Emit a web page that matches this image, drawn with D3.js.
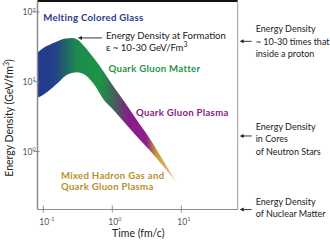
<!DOCTYPE html>
<html>
<head>
<meta charset="utf-8">
<script src="https://cdn.jsdelivr.net/npm/d3@7"></script>
<style>
  html, body { margin: 0; padding: 0; background: #fff; }
  svg { display: block; font-family: Lato, "Open Sans", sans-serif; }
</style>
</head>
<body>
<script>
// band: time (fm/c), upper and lower energy density (GeV/fm^3)
const bandTime  = [0.082, 0.1, 0.13, 0.17, 0.21, 0.26, 0.31, 0.4, 0.55, 0.75, 1.0, 1.5, 2.2, 3.5, 5.5, 8.7];
const bandUpper = [26, 30.6, 34.9, 39.2, 41.8, 42.5, 40.5, 31.6, 21.3, 13.9, 9.06, 5.18, 2.96, 1.53, 0.74, 0.35];
const bandLower = [5.9, 6.52, 7.94, 10, 12.2, 13.4, 13.7, 12.6, 9.06, 5.53, 4.11, 2.6, 1.69, 1.03, 0.61, 0.35];

const xTicks = [0.1, 1, 10];
const xTickExp = ["-1", "0", "1"];
const yTicks = [1, 10, 100];
const yTickExp = ["0", "1", "2"];

// phase labels inside the plot: [text, time, energy, colour]
const phaseLabels = [
  ["Melting Colored Glass", 0.1, 75, "#2b3a8c"],
  ["Quark Gluon Matter", 0.88, 14, "#1f9447"],
  ["Quark Gluon Plasma", 2.2, 3.2, "#8a1a88"],
  ["Mixed Hadron Gas and", 0.18, 0.41, "#b8902e"],
  ["Quark Gluon Plasma", 0.18, 0.28, "#b8902e"]
];

// reference energies marked on the right side
const refLevels = [38, 1.67, 0.147];
const refTexts = [
  ["Energy Density", "~ 10-30 times that", "inside a proton"],
  ["Energy Density", "in Cores", "of Neutron Stars"],
  ["Energy Density", "of Nuclear Matter"]
];

const W = 330, H = 244;
const margin = { top: 1, right: 92.3, bottom: 34.5, left: 37.5 };
const width = W - margin.left - margin.right,
      height = H - margin.top - margin.bottom;

const x = d3.scaleLog().domain([Math.pow(10, -1.084), Math.pow(10, 1.817)]).range([0, width]);
const y = d3.scaleLog().domain([Math.pow(10, -0.8315), Math.pow(10, 2.158)]).range([height, 0]);

const svg = d3.select("body").append("svg")
    .attr("width", W)
    .attr("height", H);

const g = svg.append("g")
    .attr("transform", "translate(" + margin.left + "," + margin.top + ")");

// colour ramp along time
const grad = svg.append("defs").append("linearGradient")
    .attr("id", "band")
    .attr("gradientUnits", "userSpaceOnUse")
    .attr("x1", x(bandTime[0])).attr("x2", x(bandTime[bandTime.length - 1]))
    .attr("y1", 0).attr("y2", 0);
[[0, "#22398c"], [0.12, "#233f8a"], [0.28, "#1c8a4c"], [0.45, "#1d9447"],
 [0.56, "#4a5a60"], [0.66, "#8a1a8a"], [0.78, "#8e2288"], [0.85, "#c89838"],
 [0.93, "#dcb770"], [1, "#f4ead4"]].forEach(s => {
  grad.append("stop").attr("offset", s[0]).attr("stop-color", s[1]);
});

const area = d3.area()
    .x((d, i) => x(bandTime[i]))
    .y0((d, i) => y(bandLower[i]))
    .y1((d, i) => y(bandUpper[i]))
    .curve(d3.curveMonotoneX);

g.append("path")
    .datum(bandTime)
    .attr("d", area)
    .attr("fill", "url(#band)");

// frame
g.append("line").attr("x1", 0).attr("x2", width).attr("y1", 0).attr("y2", 0)
    .attr("stroke", "#111").attr("stroke-width", 2);
g.append("line").attr("x1", 0).attr("x2", 0).attr("y1", 0).attr("y2", height)
    .attr("stroke", "#8c8c8c").attr("stroke-width", 1.5);
g.append("line").attr("x1", width).attr("x2", width).attr("y1", 0).attr("y2", height)
    .attr("stroke", "#999").attr("stroke-width", 1);
g.append("line").attr("x1", 0).attr("x2", width).attr("y1", height).attr("y2", height)
    .attr("stroke", "#8c8c8c").attr("stroke-width", 1.2);

// x ticks
xTicks.forEach((t, i) => {
  g.append("line").attr("x1", x(t)).attr("x2", x(t))
      .attr("y1", height - 4).attr("y2", height + 3)
      .attr("stroke", "#777").attr("stroke-width", 0.8);
  const lab = g.append("text").attr("x", x(t) - 4).attr("y", height + 15)
      .attr("font-size", 8.5).attr("fill", "#555");
  lab.append("tspan").text("10");
  lab.append("tspan").attr("dy", -3.5).attr("font-size", 5.5).text(xTickExp[i]);
});

// y ticks
yTicks.forEach((t, i) => {
  g.append("line").attr("x1", -4).attr("x2", 2)
      .attr("y1", y(t)).attr("y2", y(t))
      .attr("stroke", "#777").attr("stroke-width", 0.8);
  const lab = g.append("text").attr("x", -15).attr("y", y(t) + 3)
      .attr("font-size", 8.5).attr("fill", "#555");
  lab.append("tspan").text("10");
  lab.append("tspan").attr("dy", -3.5).attr("font-size", 5.5).text(yTickExp[i]);
});

// axis titles
svg.append("text")
    .attr("x", margin.left + x(1) + 26).attr("y", 237)
    .attr("text-anchor", "middle")
    .attr("font-size", 10.5).attr("fill", "#222")
    .text("Time (fm/c)");

const yt = svg.append("text")
    .attr("transform", "translate(13," + (margin.top + 117) + ") rotate(-90)")
    .attr("text-anchor", "middle")
    .attr("font-size", 10.5).attr("fill", "#222");
yt.append("tspan").text("Energy Density (GeV/fm");
yt.append("tspan").attr("dy", -4).attr("font-size", 7).text("3");
yt.append("tspan").attr("dy", 4).text(")");

// phase labels
phaseLabels.forEach(p => {
  g.append("text")
      .attr("x", x(p[1])).attr("y", y(p[2]))
      .attr("font-size", 9.6).attr("font-weight", "bold")
      .attr("letter-spacing", 0.3)
      .attr("fill", p[3])
      .text(p[0]);
});

// formation note with arrow to the peak
const peakI = bandUpper.indexOf(d3.max(bandUpper));
const px = x(bandTime[peakI]) + 6, py = y(bandUpper[peakI]);
g.append("line").attr("x1", px + 3).attr("x2", px + 24).attr("y1", py).attr("y2", py)
    .attr("stroke", "#222").attr("stroke-width", 0.9);
g.append("path")
    .attr("d", "M" + px + "," + py + "l4,-2l0,4z")
    .attr("fill", "#222");
g.append("text").attr("x", px + 28).attr("y", py + 1)
    .attr("font-size", 9.6).attr("fill", "#222")
    .text("Energy Density at Formation");
const f2 = g.append("text").attr("x", px + 28).attr("y", py + 13)
    .attr("font-size", 9.6).attr("fill", "#222");
f2.append("tspan").text("\u03b5 ~ 10-30 GeV/Fm");
f2.append("tspan").attr("dy", -3.5).attr("font-size", 7).text("3");

// reference levels on the right (first-line offset from the arrow per block)
const blockShift = [-9, -6, -5];
refLevels.forEach((e, i) => {
  const yy = y(e);
  g.append("line").attr("x1", width + 5).attr("x2", width + 14).attr("y1", yy).attr("y2", yy)
      .attr("stroke", "#222").attr("stroke-width", 0.9);
  g.append("path")
      .attr("d", "M" + (width + 2) + "," + yy + "l4,-2l0,4z")
      .attr("fill", "#222");
  refTexts[i].forEach((s, k) => {
    g.append("text")
        .attr("x", width + 18).attr("y", yy + blockShift[i] + k * 12.5)
        .attr("font-size", 9).attr("fill", "#222")
        .text(s);
  });
});
</script>
</body>
</html>
